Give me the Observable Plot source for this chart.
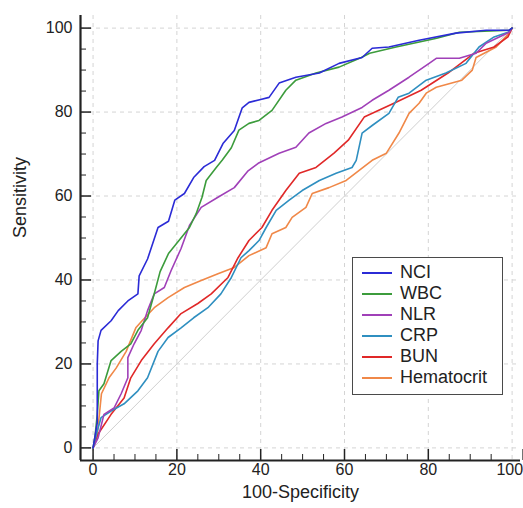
<!DOCTYPE html>
<html><head><meta charset="utf-8">
<script src="https://cdn.jsdelivr.net/npm/d3@7"></script>
<script src="https://cdn.jsdelivr.net/npm/@observablehq/plot@0.6"></script>
<style>
body{margin:0;background:#fff;font-family:"Liberation Sans",Arial,sans-serif}
#wrap{position:relative;width:523px;height:508px;overflow:hidden}
#legend{position:absolute;left:352px;top:257px;width:151px;height:138px;border:1.5px solid #4a4a4a;background:#fff;box-sizing:border-box;padding-top:4px}
.row{display:flex;align-items:center;height:21px;font-size:18px;color:#222}
.sw{width:30px;height:0;border-top:2px solid;margin-left:9px;margin-right:8px}
</style></head>
<body><div id="wrap"><div id="legend"></div></div>
<script>
const seriesNames = ["NCI","WBC","NLR","CRP","BUN","Hematocrit"];
const seriesColors = ["#2b2bd6","#3c9c3c","#a040b8","#2f8fc0","#e02828","#f08848"];
const majorTicks = [0,20,40,60,80,100];
const minorTicks = [5,10,15,25,30,35,45,50,55,65,70,75,85,90,95];
const axisTitles = ["100-Specificity", "Sensitivity"];
const diagonal = [[0,0],[100,100]];

const NCI = [[0,0],[0.5,3],[1,6],[1,20],[1.2,25.5],[1.9,28],[4.3,30.3],[6,32.7],[8.3,35],[10.7,36.7],[11,41],[13,45],[15.5,52.5],[18,54],[19.5,59],[21.8,60.6],[24,64.4],[26.5,67],[29,68.5],[31,72.5],[33.7,75.6],[35.6,81],[37.2,82.3],[40,83],[42,83.5],[44.4,86.9],[48.4,88.3],[54,89.3],[58.7,91.6],[64.2,93],[66.6,95.2],[70.6,95.5],[77.8,97.1],[86.6,98.8],[93.8,99.5],[99.3,99.5],[100,100]];
const WBC = [[0,0],[0.5,3],[1,8],[1.4,13.6],[2.6,15.3],[4.3,20.8],[6.7,23],[9,24.8],[10.7,28],[13,31],[14.6,36.7],[16,42],[18,46.3],[20.5,49.4],[23,52.5],[24.6,55.8],[26,59.7],[27,63.7],[29.4,66.8],[30.8,68.5],[33,71.5],[34.8,75.7],[37.2,77.3],[39.6,78],[42.7,80.4],[46,85.2],[48.4,87.6],[53.2,89.3],[58.7,90.7],[64,93],[66,94],[72.3,95.5],[82,97.6],[87.4,99],[99.3,99.5],[100,100]];
const NLR = [[0,0],[1.2,2.4],[2.6,8],[5,9.5],[6.7,12.9],[8.3,16.7],[8.3,21.5],[9.8,24.8],[11.5,28],[13,32.7],[14.6,36.7],[17,38.2],[18.6,42.2],[21,47.5],[23,53],[25.8,57.3],[29.8,59.7],[33.7,62],[37,66],[39.4,67.8],[44.4,70.2],[48.4,71.6],[51.5,75],[55.6,77.3],[59.4,78.8],[64.2,81.1],[66.6,82.8],[70.6,85.2],[75.4,88.3],[80.2,91.6],[81.9,92.8],[87.4,92.8],[91.4,94],[93.8,96.4],[99.3,99],[100,100]];
const CRP = [[0,0],[1,4],[1.9,7.2],[4.3,8.8],[7.4,10.5],[10.7,13.6],[13,16.7],[15.5,23],[17.9,26.3],[21,28.6],[24,31],[27.4,33.4],[30.5,36.7],[33,40.6],[35.3,45.3],[37.2,47],[39.6,49.4],[41.3,52.5],[43.7,56.6],[46.8,59],[49.9,61.3],[54,63.7],[58,65.4],[61.8,66.8],[62.8,68.5],[64.2,75],[66.6,76.8],[70.6,79.7],[72.8,83.5],[75.4,84.5],[79.5,87.6],[84.2,89.3],[89,91.6],[92.1,95.5],[95.7,97.9],[99,99],[100,100]];
const BUN = [[0,0],[1.2,3.3],[4.3,8],[7.4,11.9],[9,16.7],[11.5,20.8],[14.6,24.8],[17.9,28.6],[21,32],[25,34.4],[28.2,36.7],[32.2,40.6],[34.6,45.3],[37.2,49.4],[40.3,52.5],[42.7,56.6],[46,61.3],[49.2,65.4],[53.2,66.8],[57.5,70.2],[60.9,73.3],[64.7,78.8],[71.8,82.1],[78.3,85.2],[84.7,89.3],[90.9,94],[95.7,95.5],[99,97.9],[100,100]];
const Hematocrit = [[0,0],[1,3],[2,12.9],[3.8,16.7],[5.5,19],[7.9,23],[10.2,28.6],[11.7,30.3],[14.6,33.4],[17.9,35.8],[21.8,38.2],[25.8,39.9],[29.8,41.5],[33.7,43],[37.2,45.8],[41.3,47.7],[42.7,51],[46,52.5],[47.5,54.9],[50.8,57.3],[52.3,60.6],[56.3,62],[60.4,63.7],[63.5,66.1],[66.6,68.5],[70,70.2],[73,75],[75.4,79.7],[77.8,82.1],[79.5,84.5],[81.9,85.9],[88,87.6],[90.5,90],[91.4,93],[96.2,95.5],[99.3,98.8],[100,100]];

const seriesData = [NCI, WBC, NLR, CRP, BUN, Hematocrit];
const lineMarks = seriesData.map((d, i) => ({d, i})).reverse().map(({d, i}) =>
  Plot.line(d, {x: p => p[0], y: p => p[1], stroke: seriesColors[i], strokeWidth: 1.6})
);

const chart = Plot.plot({
  width: 523, height: 508,
  marginLeft: 80, marginRight: 3, marginTop: 15, marginBottom: 48,
  style: {fontFamily: "'Liberation Sans', Arial, sans-serif", fontSize: "16px", background: "white", color: "#222"},
  x: {domain: [-3, 102], label: null},
  y: {domain: [-3, 103], label: null},
  marks: [
    Plot.gridX(majorTicks, {stroke: "#d4d4d4", strokeOpacity: 1, strokeDasharray: "4,4"}),
    Plot.gridY(majorTicks, {stroke: "#d4d4d4", strokeOpacity: 1, strokeDasharray: "4,4"}),
    Plot.line(diagonal, {x: p => p[0], y: p => p[1], stroke: "#cfcfcf", strokeWidth: 1}),
    ...lineMarks,
    Plot.axisX(minorTicks, {tickSize: -6, tickFormat: () => "", label: null, stroke: "#222"}),
    Plot.axisY(minorTicks, {tickSize: -6, tickFormat: () => "", label: null, stroke: "#222"}),
    Plot.axisX(majorTicks.slice(0, -1), {tickSize: -11, tickPadding: 14, label: null, stroke: "#222", strokeWidth: 1.5}),
    Plot.axisX(majorTicks.slice(-1), {tickSize: -11, tickPadding: 14, label: null, stroke: "#222", strokeWidth: 1.5, textAnchor: "end", dx: 11}),
    Plot.axisY(majorTicks, {tickSize: -11, tickPadding: 19, label: null, stroke: "#222", strokeWidth: 1.5}),
    Plot.ruleX([-3], {stroke: "#222", strokeWidth: 2.2}),
    Plot.ruleY([-3], {stroke: "#222", strokeWidth: 2.2}),
    Plot.text([axisTitles[0]], {frameAnchor: "bottom", dy: 37, fontSize: 18, fill: "#222"}),
    Plot.text([axisTitles[1]], {frameAnchor: "left", dx: -60, rotate: -90, fontSize: 18, fill: "#222"})
  ]
});
document.getElementById("wrap").prepend(chart);

const legend = document.getElementById("legend");
seriesNames.forEach((name, i) => {
  const row = document.createElement("div");
  row.className = "row";
  const sw = document.createElement("span");
  sw.className = "sw";
  sw.style.borderTopColor = seriesColors[i];
  const tx = document.createElement("span");
  tx.textContent = name;
  row.append(sw, tx);
  legend.append(row);
});
</script></body></html>
